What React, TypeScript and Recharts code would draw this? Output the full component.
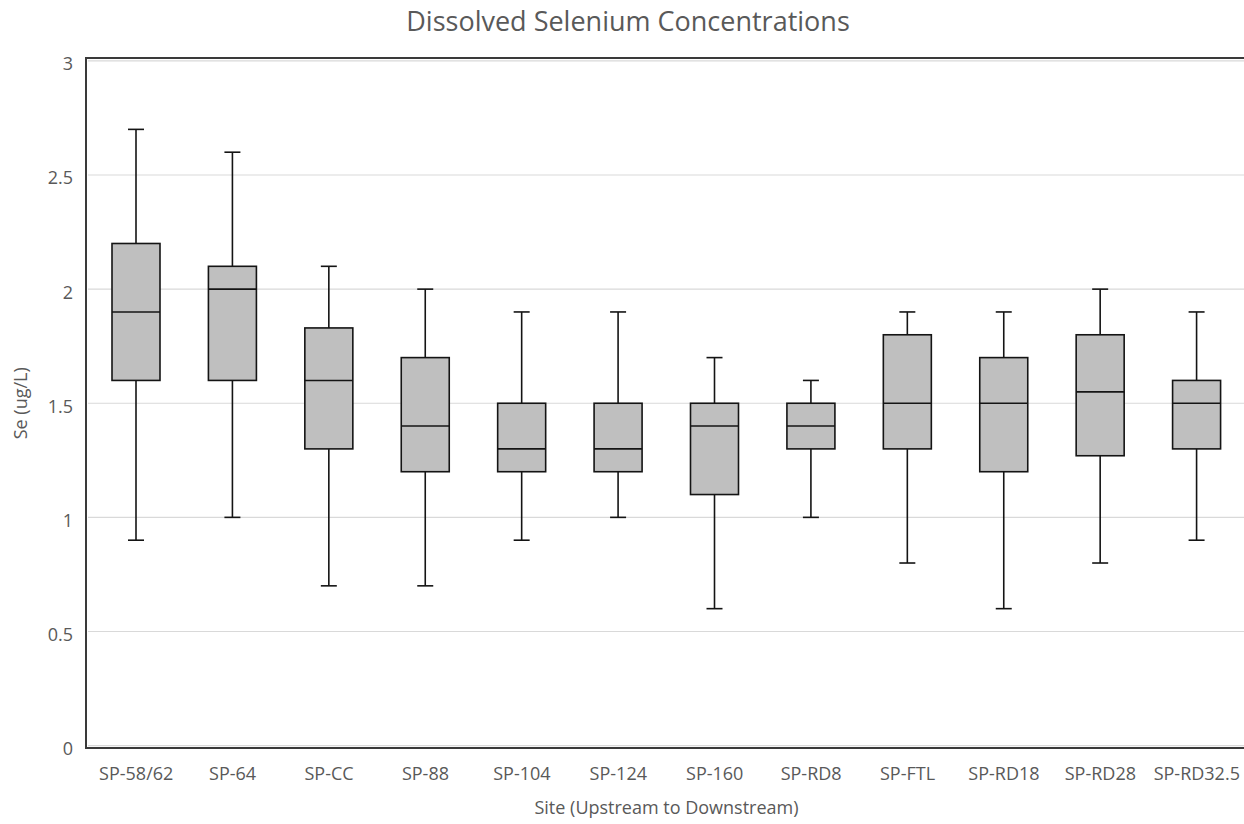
import React from "react";
import { ComposedChart, Bar, XAxis, YAxis, CartesianGrid } from "recharts";

// Sites, upstream to downstream
const SITES = [
  "SP-58/62",
  "SP-64",
  "SP-CC",
  "SP-88",
  "SP-104",
  "SP-124",
  "SP-160",
  "SP-RD8",
  "SP-FTL",
  "SP-RD18",
  "SP-RD28",
  "SP-RD32.5",
];

// five-number summaries, ug/L
const MIN = [0.9, 1.0, 0.7, 0.7, 0.9, 1.0, 0.6, 1.0, 0.8, 0.6, 0.8, 0.9];
const Q1 = [1.6, 1.6, 1.3, 1.2, 1.2, 1.2, 1.1, 1.3, 1.3, 1.2, 1.27, 1.3];
const MEDIAN = [1.9, 2.0, 1.6, 1.4, 1.3, 1.3, 1.4, 1.4, 1.5, 1.5, 1.55, 1.5];
const Q3 = [2.2, 2.1, 1.83, 1.7, 1.5, 1.5, 1.5, 1.5, 1.8, 1.7, 1.8, 1.6];
const MAX = [2.7, 2.6, 2.1, 2.0, 1.9, 1.9, 1.7, 1.6, 1.9, 1.9, 2.0, 1.9];

const Y_TICKS = [0, 0.5, 1, 1.5, 2, 2.5, 3];

const rows = SITES.map((site, i) => ({
  site,
  range: [MIN[i], MAX[i]],
  min: MIN[i],
  q1: Q1[i],
  median: MEDIAN[i],
  q3: Q3[i],
  max: MAX[i],
}));

const FONT = "'Open Sans', sans-serif";
const TEXT = "#595959";
const LINE = "#141414";
const FRAME = "#3a3a3a";

function BoxShape(props: any) {
  const { x, y, width, height, payload } = props;
  if (!payload || width == null) return null;
  const { min, q1, median, q3, max } = payload;
  const top = Math.min(y, y + height);
  const h = Math.abs(height);
  const toY = (v: number) => top + ((max - v) / (max - min)) * h;
  const cx = x + width / 2;
  const cap = 8;
  return (
    <g>
      <line x1={cx} x2={cx} y1={toY(max)} y2={toY(q3)} stroke={LINE} strokeWidth={1.6} />
      <line x1={cx} x2={cx} y1={toY(q1)} y2={toY(min)} stroke={LINE} strokeWidth={1.6} />
      <line x1={cx - cap} x2={cx + cap} y1={toY(max)} y2={toY(max)} stroke={LINE} strokeWidth={1.6} />
      <line x1={cx - cap} x2={cx + cap} y1={toY(min)} y2={toY(min)} stroke={LINE} strokeWidth={1.6} />
      <rect
        x={x}
        y={toY(q3)}
        width={width}
        height={toY(q1) - toY(q3)}
        fill="#BFBFBF"
        stroke={LINE}
        strokeWidth={1.6}
      />
      <line x1={x} x2={x + width} y1={toY(median)} y2={toY(median)} stroke={LINE} strokeWidth={1.6} />
    </g>
  );
}

export default function App() {
  return (
    <div
      style={{
        position: "fixed",
        inset: 0,
        overflow: "hidden",
        background: "#fff",
        fontFamily: FONT,
      }}
    >
      <div
        style={{
          position: "absolute",
          left: 0,
          top: 2,
          width: 1256,
          textAlign: "center",
          fontSize: 27,
          color: TEXT,
          lineHeight: "38px",
        }}
      >
        Dissolved Selenium Concentrations
      </div>
      {/* chart frame: left, top and bottom edges; the right edge runs off the page */}
      <div style={{ position: "absolute", left: 85, top: 57, width: 2, height: 692, background: FRAME }} />
      <div style={{ position: "absolute", left: 85, top: 57, right: 0, height: 2, background: FRAME }} />
      <div style={{ position: "absolute", left: 85, top: 747, right: 0, height: 2, background: FRAME }} />
      <ComposedChart
        width={1246}
        height={824}
        data={rows}
        margin={{ top: 60.9, right: 1, left: 0, bottom: 0 }}
        style={{ position: "absolute", left: 0, top: 0 }}
      >
        <CartesianGrid vertical={false} stroke="#D9D9D9" strokeWidth={1.2} />
        <XAxis
          dataKey="site"
          type="category"
          interval={0}
          height={78.4}
          axisLine={false}
          tickLine={false}
          tickSize={0}
          tickMargin={22}
          tick={{ fill: TEXT, fontSize: 18, fontFamily: FONT }}
          label={{
            content: (p: any) => {
              const vb = p.viewBox || {};
              return (
                <text
                  x={vb.x + vb.width / 2}
                  y={vb.y + 68}
                  textAnchor="middle"
                  fill={TEXT}
                  fontSize={18}
                  fontFamily={FONT}
                >
                  Site (Upstream to Downstream)
                </text>
              );
            },
          }}
        />
        <YAxis
          type="number"
          domain={[0, 3]}
          ticks={Y_TICKS}
          width={88}
          axisLine={false}
          tickLine={false}
          tickSize={0}
          tickMargin={15}
          tick={{ fill: TEXT, fontSize: 18, fontFamily: FONT, dy: 3 }}
          label={{
            content: (p: any) => {
              const vb = p.viewBox || {};
              const cx = 27;
              const cy = vb.y + vb.height / 2;
              return (
                <text
                  x={cx}
                  y={cy}
                  transform={`rotate(-90, ${cx}, ${cy})`}
                  textAnchor="middle"
                  fill={TEXT}
                  fontSize={18}
                  fontFamily={FONT}
                >
                  Se (ug/L)
                </text>
              );
            },
          }}
        />
        <Bar dataKey="range" barSize={48} shape={BoxShape} isAnimationActive={false} />
      </ComposedChart>
    </div>
  );
}
